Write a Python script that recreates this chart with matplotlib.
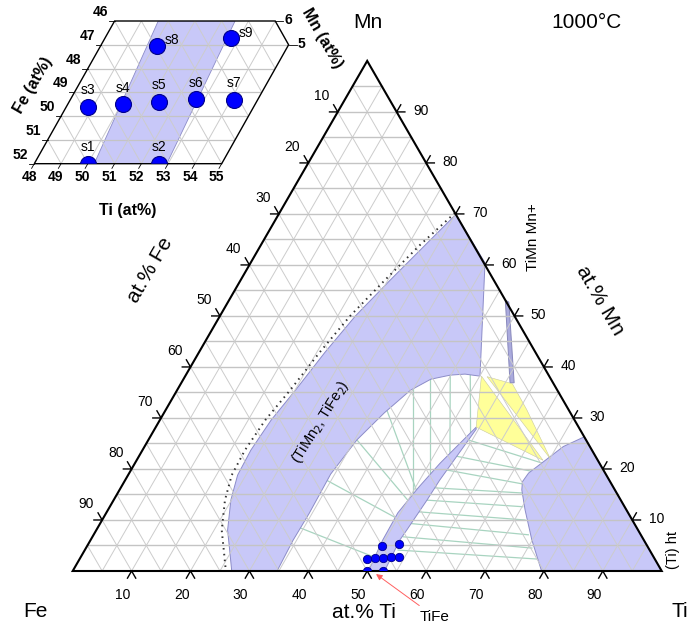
import numpy as np
import matplotlib.pyplot as plt
from matplotlib.patches import Polygon

plt.rcParams['font.family'] = ['Liberation Sans', 'DejaVu Sans']

R3 = np.sqrt(3) / 2


def tern(ti, mn):
    ti = np.asarray(ti, dtype=float)
    mn = np.asarray(mn, dtype=float)
    return ti + mn / 2, mn * R3


def xy(pts):
    ti, mn = zip(*pts)
    x, y = tern(ti, mn)
    return np.column_stack([x, y])


# ---- phase boundaries, (at.% Ti, at.% Mn) ----
laves_outer = [(30.1, 69.9), (27.9, 63.9), (25.4, 57.05), (23.0, 50.0), (21.4, 42.9),
               (20.1, 35.5), (18.9, 29.6), (18.4, 23.7), (18.6, 18.8), (19.9, 13.9),
               (22.3, 8.0), (24.6, 4.1), (27.0, 0)]
laves_inner = [(34.7, 0), (34.4, 6.0), (34.5, 11.3), (34.3, 19.0), (35.4, 25.7),
               (37.4, 31.0), (39.6, 35.4), (42.0, 37.6), (44.9, 38.4), (47.3, 38.6),
               (50.05, 38.2)]
laves_edge = [(39.8, 60.4)]
dotted = [(29.8, 70.2), (27.0, 63.9), (24.5, 57.05), (22.1, 50.0), (20.5, 42.9),
          (19.2, 35.5), (17.9, 29.6), (17.4, 23.7), (17.6, 18.8), (18.9, 13.9),
          (21.3, 8.0), (23.6, 4.1), (26.0, 0)]
tife_band = [(50.2, 0), (49.6, 6), (49.5, 11.4), (50.5, 16.3), (51.8, 21.1),
             (53.1, 24.7), (54.4, 28.2), (54.6, 27.8), (53.4, 17.8), (53.2, 13.9),
             (52.7, 8.0), (52.5, 6), (52.95, 0)]
beta_ti = [(73.7, 26.3), (71.1, 24.4), (69.2, 21.4), (67.8, 19.2), (67.6, 17.5),
           (68.3, 15.9), (70.8, 12.0), (74.9, 6.1), (79.6, 0), (100, 0)]
sliver = [(46.9, 53.1), (47.7, 52.7), (56.5, 36.9), (55.8, 36.9)]
yellow_a = [(50.3, 38.2), (54.4, 28.2), (69.0, 21.7)]
yellow_b = [(51.3, 38.1), (56.3, 36.7), (61.3, 31.6), (70.1, 22.0)]

# tie lines: (Ti1, Mn1, Ti2, Mn2)
ties = [(34.0, 8.6, 49.9, 2.7), (34.2, 17.8, 49.5, 10.5), (35.4, 25.7, 49.8, 14.0),
        (37.6, 31.5, 50.3, 16.0), (39.6, 36.3, 50.0, 15.5), (41.8, 37.8, 51.4, 18.6),
        (44.9, 38.4, 52.5, 23.1), (48.3, 38.4, 54.2, 26.7),
        (53.2, 4.1, 77.6, 2.35), (52.8, 6.7, 75.7, 4.5), (52.8, 9.3, 73.8, 7.1),
        (52.9, 11.6, 71.8, 10.0), (53.1, 13.9, 70.1, 12.6), (53.3, 16.3, 68.6, 15.3),
        (53.6, 19.8, 68.2, 17.0), (53.9, 22.5, 68.4, 19.5), (54.3, 25.7, 69.3, 21.1)]

# samples
s_names = ['s1', 's2', 's3', 's4', 's5', 's6', 's7', 's8', 's9']
s_ti = [50.0, 52.67, 48.82, 50.05, 51.37, 52.69, 54.12, 50.10, 52.70]
s_mn = [0.0, 0.0, 2.40, 2.50, 2.59, 2.71, 2.68, 4.95, 5.27]

ticks = [10, 20, 30, 40, 50, 60, 70, 80, 90]

# inset window
in_frame = [(48, 0), (48, 6), (54, 6), (55, 5), (55, 0)]
in_band = [(50.24, 0), (49.63, 6), (52.5, 6), (52.95, 0)]
in_ti = [48, 49, 50, 51, 52, 53, 54, 55]
in_fe = [52, 51, 50, 49, 48, 47, 46]

BLUE = '#c8c8f8'
BLUE_EDGE = '#8c8cc8'
GRID = '#cccccc'
TIE = '#a8d4c0'

fig = plt.figure(figsize=(6.92, 6.31), dpi=100)
ax = fig.add_axes([0, 0, 1, 1])
ax.set_xlim(-12.343, 105.144)
ax.set_ylim(-10.187, 96.944)
ax.axis('off')

# regions
laves = laves_outer + laves_inner + laves_edge
for pts, fc, ec in [(laves, BLUE, BLUE_EDGE), (tife_band, BLUE, BLUE_EDGE),
                    (beta_ti, BLUE, BLUE_EDGE), (sliver, '#aaaadd', '#8888bb')]:
    ax.add_patch(Polygon(xy(pts), closed=True, facecolor=fc, edgecolor=ec,
                         lw=0.7, zorder=1))
for pts in (yellow_a, yellow_b):
    ax.add_patch(Polygon(xy(pts), closed=True, facecolor='#ffff99',
                         edgecolor='#c8c8a0', lw=0.4, zorder=1))

# grid
for k in range(5, 100, 5):
    x, y = tern([0, 100 - k], [k, k])
    ax.plot(x, y, color='#c4c4c4', lw=1.0, zorder=2)
    x, y = tern([k, k], [0, 100 - k])
    ax.plot(x, y, color=GRID, lw=0.7, zorder=2)
    x, y = tern([100 - k, 0], [0, 100 - k])
    ax.plot(x, y, color=GRID, lw=0.7, zorder=2)

# tie lines
for t1, m1, t2, m2 in ties:
    x, y = tern([t1, t2], [m1, m2])
    ax.plot(x, y, color=TIE, lw=0.9, zorder=0.5)

# dotted boundary
dx, dy = tern(*zip(*dotted))
ax.plot(dx, dy, color='#333333', lw=1.4, ls=(0, (0.8, 2.2)), zorder=3)

# triangle frame
tri = Polygon(xy([(0, 0), (100, 0), (0, 100)]), closed=True, fill=False,
              edgecolor='black', lw=1.5, zorder=4)
ax.add_patch(tri)

# ticks and tick labels
L = 1.4
c60, s60 = 0.5, R3
for v in ticks:
    px, py = tern(v, 0)
    ax.plot([px - L * c60, px, px + L * c60], [py - L * s60, py, py - L * s60],
            color='black', lw=1.0, zorder=4)
    ax.text(px - 1.5, py - 4.1, str(v), fontsize=10, ha='center', va='center')
    px, py = tern(0, 100 - v)
    ax.plot([px - L, px, px - L * c60], [py, py, py + L * s60],
            color='black', lw=1.0, zorder=4)
    ax.text(px - 2.7, py + 2.7, str(v), fontsize=10, ha='center', va='center')
    px, py = tern(100 - v, v)
    ax.plot([px + L, px, px + L * c60], [py, py, py + L * s60],
            color='black', lw=1.0, zorder=4)
    ax.text(px + 4.1, py + 0.2, str(v), fontsize=10, ha='center', va='center')

# sample points (main)
sx, sy = tern(s_ti, s_mn)
dots, = ax.plot(sx, sy, 'o', ms=6, mfc='#0000ff', mec='#00008a', mew=0.6, zorder=6)
clip_tri = Polygon(xy([(0, 0), (100, 0), (0, 100)]), closed=True, fill=False,
                   edgecolor='none', transform=ax.transData)
ax.add_patch(clip_tri)
dots.set_clip_path(clip_tri)

# labels
ax.text(50.1, 93.2, 'Mn', fontsize=15, ha='center', va='center')
ax.text(87.3, 93.2, '1000°C', fontsize=15, ha='center', va='center')
ax.text(-6.4, -6.8, 'Fe', fontsize=15, ha='center', va='center')
ax.text(103.1, -6.8, 'Ti', fontsize=15, ha='center', va='center')
ax.text(49.5, -7.1, 'at.% Ti', fontsize=15, ha='center', va='center')
ax.text(13.15, 51.1, 'at.% Fe', fontsize=15, ha='center', va='center', rotation=60)
ax.text(89.5, 46.0, 'at.% Mn', fontsize=15, ha='center', va='center', rotation=-60)
ax.text(78.2, 56.7, 'TiMn Mn+', fontsize=11, ha='center', va='center', rotation=90)
ax.text(101.9, 3.6, '(Ti) ht', fontsize=10.5, ha='center', va='center', rotation=90)
ax.text(42.0, 25.3, r'(TiMn$_2$, TiFe$_2$)', fontsize=10.5, ha='center', va='center',
        rotation=58)
ax.annotate('TiFe', xy=tern(51.8, -0.6), xytext=(61.5, -7.8), fontsize=11,
            ha='center', va='center',
            arrowprops=dict(arrowstyle='-|>', color='#ff6060', lw=0.7,
                            mutation_scale=9, shrinkA=2, shrinkB=0))

# ---- inset ----
ai = fig.add_axes([0, 1 - 230 / 631, 330 / 692, 230 / 631])
ai.set_xlim(46.719, 59.046)
ai.set_ylim(-2.415, 5.961)
ai.axis('off')

frame = Polygon(xy(in_frame), closed=True, fill=False, edgecolor='black', lw=1.0,
                zorder=4)
ai.add_patch(frame)
clip_in = Polygon(xy(in_frame), closed=True, fill=False, edgecolor='none',
                  transform=ai.transData)
ai.add_patch(clip_in)

band = Polygon(xy(in_band), closed=True, facecolor=BLUE, edgecolor=BLUE_EDGE,
               lw=0.6, zorder=1)
ai.add_patch(band)
band.set_clip_path(clip_in)

for t in range(49, 55):
    x, y = tern([t, t], [0, 6])
    ln, = ai.plot(x, y, color=GRID, lw=0.7, zorder=2)
    ln.set_clip_path(clip_in)
for m in range(1, 6):
    x, y = tern([48, 55], [m, m])
    ln, = ai.plot(x, y, color='#c4c4c4', lw=0.9, zorder=2)
    ln.set_clip_path(clip_in)
for s in range(49, 61):
    x, y = tern([s, s - 6], [0, 6])
    ln, = ai.plot(x, y, color=GRID, lw=0.7, zorder=2)
    ln.set_clip_path(clip_in)

for t in in_ti:
    px, py = tern(t, 0)
    ai.plot([px, px - 0.1], [py, py - 0.17], color='black', lw=0.6)
    ai.text(px - 0.19, py - 0.5, str(t), fontsize=10, fontweight='bold',
            ha='center', va='center')
for fe in in_fe:
    px, py = tern(48, 52 - fe)
    ai.plot([px, px - 0.2], [py, py], color='black', lw=0.6)
    ai.text(px - 0.52, py + 0.33, str(fe), fontsize=10, fontweight='bold',
            ha='center', va='center')
for t, m in [(54, 6), (55, 5)]:
    px, py = tern(t, m)
    ai.plot([px, px + 0.3], [py, py], color='black', lw=0.6)
    ai.text(px + 0.49, py + 0.04, str(m), fontsize=10, fontweight='bold',
            ha='center', va='center')

ai.text(51.5, -1.69, 'Ti (at%)', fontsize=11.5, fontweight='bold', ha='center',
        va='center')
ai.text(47.95, 2.87, 'Fe (at%)', fontsize=11.5, fontweight='bold', ha='center',
        va='center', rotation=60)
ai.text(58.75, 4.58, 'Mn (at%)', fontsize=11.5, fontweight='bold', ha='center',
        va='center', rotation=-60)

ix, iy = tern(s_ti, s_mn)
pts, = ai.plot(ix, iy, 'o', ms=11.5, mfc='#0000ff', mec='#00008a', mew=0.8, zorder=6)
pts.set_clip_path(clip_in)
for name, x0, y0 in zip(s_names, ix, iy):
    if name in ('s8', 's9'):
        ai.annotate(name, (x0, y0), xytext=(6, 4), textcoords='offset points',
                    fontsize=10, ha='left', va='center')
    else:
        ai.annotate(name, (x0, y0), xytext=(0, 12), textcoords='offset points',
                    fontsize=10, ha='center', va='center')

fig.savefig('out.png', dpi=100)
